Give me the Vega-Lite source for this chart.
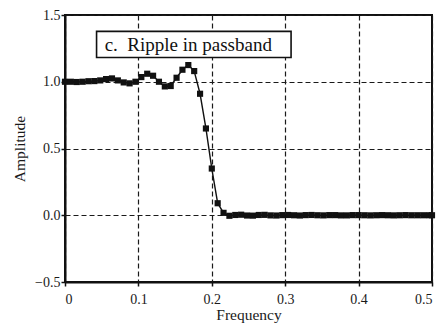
{
  "$schema": "https://vega.github.io/schema/vega-lite/v6.json",
  "autosize": "none",
  "width": 367,
  "height": 267,
  "padding": {"left": 65, "top": 15, "right": 12, "bottom": 47},
  "background": "white",
  "config": {
    "font": "Liberation Serif",
    "view": {"stroke": "#111", "strokeWidth": 2},
    "axis": {
      "labelFont": "Liberation Serif",
      "titleFont": "Liberation Serif",
      "labelFontSize": 14,
      "titleFontSize": 15.5,
      "titleFontWeight": "normal",
      "labelColor": "#1a1a1a",
      "titleColor": "#1a1a1a",
      "domainColor": "#111",
      "domainWidth": 2,
      "tickColor": "#111",
      "tickSize": 4,
      "tickWidth": 1.5,
      "gridColor": "#1a1a1a",
      "gridOpacity": 1,
      "gridWidth": 1.2,
      "gridDash": [5, 3]
    }
  },
  "datasets": {
    "response": [
      {"frequency": 0.000, "amplitude": 1.000},
      {"frequency": 0.008, "amplitude": 1.000},
      {"frequency": 0.016, "amplitude": 0.998},
      {"frequency": 0.024, "amplitude": 1.000},
      {"frequency": 0.032, "amplitude": 1.004},
      {"frequency": 0.040, "amplitude": 1.005},
      {"frequency": 0.048, "amplitude": 1.010},
      {"frequency": 0.056, "amplitude": 1.020},
      {"frequency": 0.064, "amplitude": 1.025},
      {"frequency": 0.072, "amplitude": 1.010},
      {"frequency": 0.080, "amplitude": 0.995},
      {"frequency": 0.088, "amplitude": 0.988},
      {"frequency": 0.096, "amplitude": 1.000},
      {"frequency": 0.104, "amplitude": 1.035},
      {"frequency": 0.112, "amplitude": 1.060},
      {"frequency": 0.120, "amplitude": 1.045},
      {"frequency": 0.128, "amplitude": 1.000},
      {"frequency": 0.136, "amplitude": 0.965},
      {"frequency": 0.144, "amplitude": 0.968},
      {"frequency": 0.152, "amplitude": 1.030},
      {"frequency": 0.160, "amplitude": 1.090},
      {"frequency": 0.168, "amplitude": 1.125},
      {"frequency": 0.176, "amplitude": 1.080},
      {"frequency": 0.184, "amplitude": 0.910},
      {"frequency": 0.192, "amplitude": 0.650},
      {"frequency": 0.200, "amplitude": 0.350},
      {"frequency": 0.208, "amplitude": 0.090},
      {"frequency": 0.216, "amplitude": 0.018},
      {"frequency": 0.224, "amplitude": -0.004},
      {"frequency": 0.232, "amplitude": 0.002},
      {"frequency": 0.240, "amplitude": 0.004},
      {"frequency": 0.248, "amplitude": -0.002},
      {"frequency": 0.256, "amplitude": -0.003},
      {"frequency": 0.264, "amplitude": 0.002},
      {"frequency": 0.272, "amplitude": 0.003},
      {"frequency": 0.280, "amplitude": -0.001},
      {"frequency": 0.288, "amplitude": -0.002},
      {"frequency": 0.296, "amplitude": 0.001},
      {"frequency": 0.304, "amplitude": 0.002},
      {"frequency": 0.312, "amplitude": 0.000},
      {"frequency": 0.320, "amplitude": -0.002},
      {"frequency": 0.328, "amplitude": 0.001},
      {"frequency": 0.336, "amplitude": 0.002},
      {"frequency": 0.344, "amplitude": 0.000},
      {"frequency": 0.352, "amplitude": -0.001},
      {"frequency": 0.360, "amplitude": 0.001},
      {"frequency": 0.368, "amplitude": 0.001},
      {"frequency": 0.376, "amplitude": -0.001},
      {"frequency": 0.384, "amplitude": -0.001},
      {"frequency": 0.392, "amplitude": 0.001},
      {"frequency": 0.400, "amplitude": 0.001},
      {"frequency": 0.408, "amplitude": 0.000},
      {"frequency": 0.416, "amplitude": -0.001},
      {"frequency": 0.424, "amplitude": 0.000},
      {"frequency": 0.432, "amplitude": 0.001},
      {"frequency": 0.440, "amplitude": 0.000},
      {"frequency": 0.448, "amplitude": -0.001},
      {"frequency": 0.456, "amplitude": 0.000},
      {"frequency": 0.464, "amplitude": 0.001},
      {"frequency": 0.472, "amplitude": 0.000},
      {"frequency": 0.480, "amplitude": 0.000},
      {"frequency": 0.488, "amplitude": 0.000},
      {"frequency": 0.496, "amplitude": 0.000},
      {"frequency": 0.500, "amplitude": 0.000}
    ],
    "label": [
      {"x1": 0.043, "x2": 0.308, "y1": 1.182, "y2": 1.377, "tx": 0.054, "ty": 1.275, "text": "c.\u00a0\u00a0Ripple in passband"}
    ]
  },
  "layer": [
    {
      "data": {"name": "response"},
      "mark": {"type": "line", "color": "#111", "strokeWidth": 1.4, "clip": true},
      "encoding": {
        "x": {
          "field": "frequency", "type": "quantitative",
          "scale": {"domain": [0, 0.5], "nice": false},
          "axis": {
            "title": "Frequency",
            "values": [0, 0.1, 0.2, 0.3, 0.4, 0.5],
            "labelExpr": "datum.value == 0 ? '0' : format(datum.value, '.1f')",
            "grid": true,
            "titlePadding": 1,
            "labelPadding": 6
          }
        },
        "y": {
          "field": "amplitude", "type": "quantitative",
          "scale": {"domain": [-0.5, 1.5], "nice": false, "zero": false},
          "axis": {
            "title": "Amplitude",
            "values": [-0.5, 0, 0.5, 1, 1.5],
            "format": ".1f",
            "grid": true,
            "titlePadding": 7,
            "labelPadding": 1
          }
        }
      }
    },
    {
      "data": {"name": "response"},
      "mark": {"type": "point", "shape": "square", "filled": true, "color": "#111", "size": 38, "opacity": 1},
      "encoding": {
        "x": {"field": "frequency", "type": "quantitative"},
        "y": {"field": "amplitude", "type": "quantitative"}
      }
    },
    {
      "data": {"name": "label"},
      "mark": {"type": "rect", "fill": "white", "stroke": "#111", "strokeWidth": 1.6},
      "encoding": {
        "x": {"field": "x1", "type": "quantitative"},
        "x2": {"field": "x2"},
        "y": {"field": "y1", "type": "quantitative"},
        "y2": {"field": "y2"}
      }
    },
    {
      "data": {"name": "label"},
      "mark": {"type": "text", "align": "left", "baseline": "middle", "font": "Liberation Serif", "fontSize": 19, "color": "#111"},
      "encoding": {
        "x": {"field": "tx", "type": "quantitative"},
        "y": {"field": "ty", "type": "quantitative"},
        "text": {"field": "text"}
      }
    }
  ]
}
